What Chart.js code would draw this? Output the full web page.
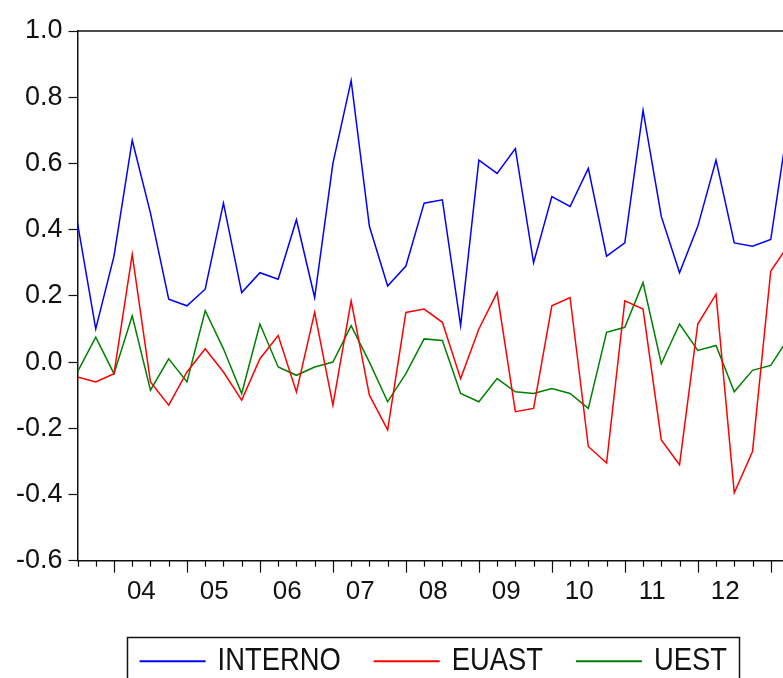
<!DOCTYPE html>
<html>
<head>
<meta charset="utf-8">
<script src="https://cdn.jsdelivr.net/npm/chart.js@4.4.1/dist/chart.umd.min.js"></script>
<style>
  html, body { margin: 0; padding: 0; background: #fff; overflow: hidden; }
  #wrap { width: 830px; height: 678px; }
</style>
</head>
<body>
<div id="wrap"><canvas id="chart" width="830" height="678"></canvas></div>
<script>
// quarterly observations, 2003Q3 .. 2013Q2
const quarters = [
  '2003Q3', '2003Q4',
  '2004Q1', '2004Q2', '2004Q3', '2004Q4',
  '2005Q1', '2005Q2', '2005Q3', '2005Q4',
  '2006Q1', '2006Q2', '2006Q3', '2006Q4',
  '2007Q1', '2007Q2', '2007Q3', '2007Q4',
  '2008Q1', '2008Q2', '2008Q3', '2008Q4',
  '2009Q1', '2009Q2', '2009Q3', '2009Q4',
  '2010Q1', '2010Q2', '2010Q3', '2010Q4',
  '2011Q1', '2011Q2', '2011Q3', '2011Q4',
  '2012Q1', '2012Q2', '2012Q3', '2012Q4',
  '2013Q1', '2013Q2'
];
const yearLabels = ['04', '05', '06', '07', '08', '09', '10', '11', '12'];

const interno = [
  0.42, 0.10, 0.32, 0.67, 0.45, 0.19, 0.17, 0.22, 0.48, 0.21,
  0.27, 0.25, 0.43, 0.195, 0.60, 0.85, 0.41, 0.23, 0.29, 0.48,
  0.49, 0.11, 0.61, 0.57, 0.645, 0.30, 0.50, 0.47, 0.585, 0.32,
  0.36, 0.76, 0.44, 0.27, 0.41, 0.61, 0.36, 0.35, 0.37, 0.74
];
const euast = [
  -0.045, -0.06, -0.035, 0.325, -0.06, -0.13, -0.03, 0.04, -0.03, -0.115,
  0.01, 0.08, -0.09, 0.15, -0.13, 0.185, -0.10, -0.205, 0.15, 0.16,
  0.12, -0.05, 0.10, 0.21, -0.15, -0.14, 0.17, 0.195, -0.255, -0.305,
  0.185, 0.16, -0.235, -0.31, 0.115, 0.205, -0.395, -0.27, 0.275, 0.355
];
const uest = [
  -0.03, 0.075, -0.035, 0.14, -0.085, 0.01, -0.06, 0.155, 0.04, -0.095,
  0.115, -0.015, -0.04, -0.015, 0.0, 0.11, 0.0, -0.12, -0.035, 0.07,
  0.065, -0.095, -0.12, -0.05, -0.09, -0.095, -0.08, -0.095, -0.14, 0.09,
  0.105, 0.24, -0.005, 0.115, 0.035, 0.05, -0.09, -0.025, -0.01, 0.075
];

const FONT = '"Liberation Sans", Arial, sans-serif';
const INK = '#111';

function toPoints(vals) {
  return vals.map((v, i) => ({ x: i, y: v }));
}

// top/right frame and the quarterly tick marks (long ones at Q1)
const frameAndTicks = {
  id: 'frameAndTicks',
  afterDraw(chart) {
    const { ctx, chartArea: a, scales: { x } } = chart;
    ctx.save();
    ctx.strokeStyle = INK;
    ctx.lineWidth = 1.5;
    ctx.beginPath();
    ctx.moveTo(a.left, a.top);
    ctx.lineTo(a.right, a.top);
    ctx.lineTo(a.right, a.bottom);
    ctx.stroke();
    ctx.lineWidth = 1.2;
    quarters.forEach((q, i) => {
      const px = Math.round(x.getPixelForValue(i)) + 0.5;
      const len = q.endsWith('Q1') ? 12 : 6;
      ctx.beginPath();
      ctx.moveTo(px, a.bottom);
      ctx.lineTo(px, a.bottom + len);
      ctx.stroke();
    });
    ctx.restore();
  }
};

// legend in a box, centred under the plot; text is a bit condensed like the original
const boxedLegend = {
  id: 'boxedLegend',
  afterDraw(chart) {
    const { ctx, chartArea: a } = chart;
    const lineLen = 66, gap = 12, spacing = 33, padX = 12.5, sx = 0.855;
    ctx.save();
    ctx.font = '32px ' + FONT;
    const items = chart.data.datasets.map(ds => ({
      label: ds.label, color: ds.borderColor, w: ctx.measureText(ds.label).width * sx
    }));
    const total = items.reduce((s, it) => s + lineLen + gap + it.w, 0) + spacing * (items.length - 1);
    let x = (a.left + a.right) / 2 - total / 2;
    const top = a.bottom + 76;
    const cy = a.bottom + 100.5;
    ctx.strokeStyle = INK;
    ctx.lineWidth = 1.5;
    ctx.strokeRect(Math.round(x - padX) + 0.5, Math.round(top) + 0.5, Math.round(total + 2 * padX), 80);
    ctx.textBaseline = 'middle';
    ctx.textAlign = 'left';
    items.forEach(it => {
      ctx.strokeStyle = it.color;
      ctx.lineWidth = 2;
      ctx.beginPath();
      ctx.moveTo(x, cy);
      ctx.lineTo(x + lineLen, cy);
      ctx.stroke();
      ctx.save();
      ctx.translate(x + lineLen + gap, cy);
      ctx.scale(sx, 1);
      ctx.fillStyle = INK;
      ctx.fillText(it.label, 0, 0);
      ctx.restore();
      x += lineLen + gap + it.w + spacing;
    });
    ctx.restore();
  }
};

function series(label, vals, color) {
  return {
    label: label,
    data: toPoints(vals),
    borderColor: color,
    backgroundColor: color,
    borderWidth: 1.5,
    pointRadius: 0,
    tension: 0,
    fill: false
  };
}

new Chart(document.getElementById('chart'), {
  type: 'line',
  data: {
    datasets: [
      series('INTERNO', interno, '#0000ff'),
      series('EUAST', euast, '#ff0000'),
      series('UEST', uest, '#008000')
    ]
  },
  options: {
    responsive: false,
    animation: false,
    layout: { padding: { top: 31, right: 41, bottom: 0, left: 0 } },
    plugins: {
      legend: { display: false },
      tooltip: { enabled: false }
    },
    scales: {
      x: {
        type: 'linear',
        min: 0,
        max: quarters.length - 1,
        afterBuildTicks(scale) {
          // one label per year, centred over its four quarters
          scale.ticks = yearLabels.map((lab, k) => ({ value: 2 + 4 * k + 1.5 }));
        },
        afterFit(scale) { scale.height = 117.3; },
        grid: { display: false, drawTicks: false },
        border: { display: true, color: INK, width: 1.5 },
        ticks: {
          autoSkip: false,
          maxRotation: 0,
          padding: 16,
          color: INK,
          font: { family: FONT, size: 26 },
          callback: (v, i) => yearLabels[i]
        }
      },
      y: {
        min: -0.6,
        max: 1.0,
        afterFit(scale) { scale.width = 77.5; },
        grid: { display: true, drawOnChartArea: false, tickLength: 9, color: INK, tickWidth: 1.2 },
        border: { display: true, color: INK, width: 1.5 },
        ticks: {
          stepSize: 0.2,
          padding: 6,
          color: INK,
          font: { family: FONT, size: 27 },
          callback: v => (Math.abs(v) < 1e-9 ? 0 : v).toFixed(1)
        }
      }
    }
  },
  plugins: [frameAndTicks, boxedLegend]
});
</script>
</body>
</html>
